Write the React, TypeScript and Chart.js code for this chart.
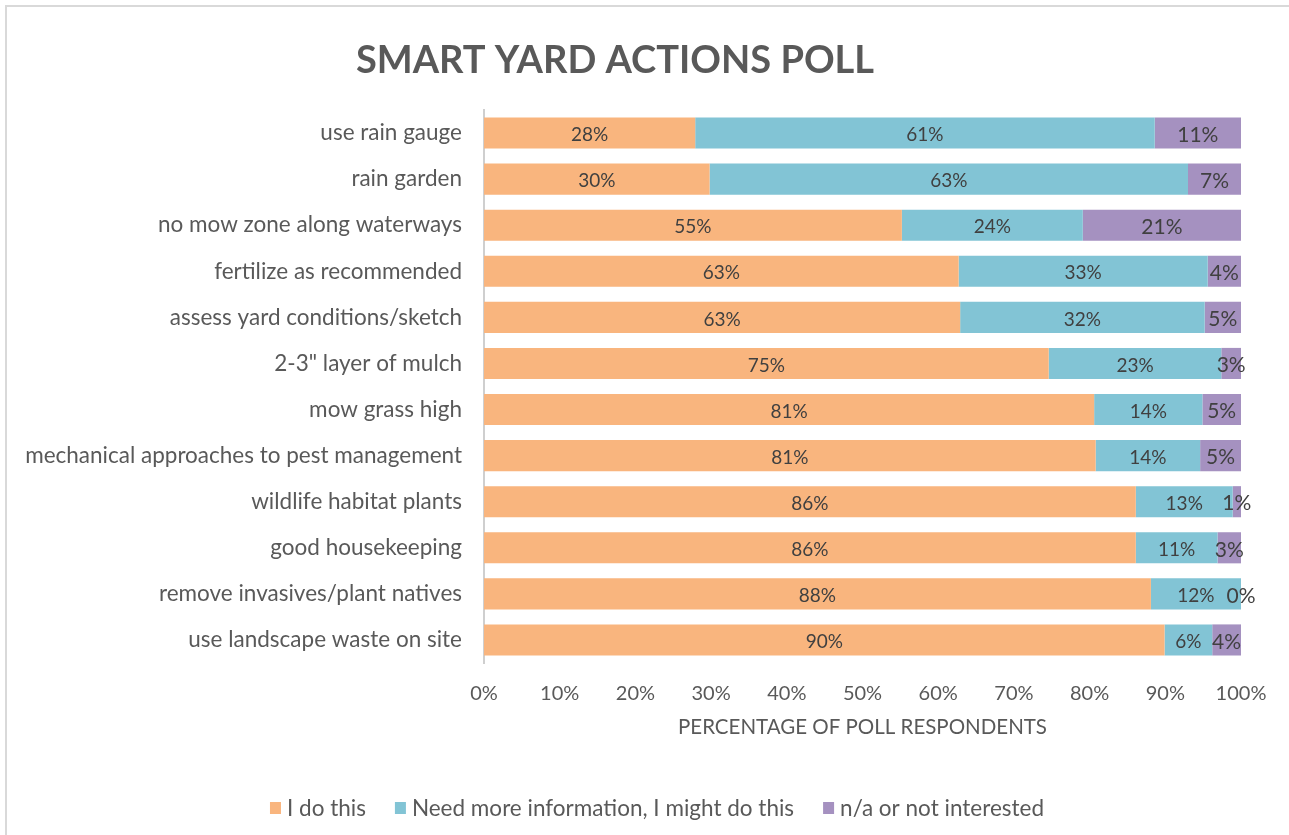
import React, { useEffect, useRef } from "react";
import { Chart, registerables } from "chart.js";

Chart.register(...registerables);

const categories = [
  "use rain gauge",
  "rain garden",
  "no mow zone along waterways",
  "fertilize as recommended",
  "assess yard conditions/sketch",
  '2-3" layer of mulch',
  "mow grass high",
  "mechanical approaches to pest management",
  "wildlife habitat plants",
  "good housekeeping",
  "remove invasives/plant natives",
  "use landscape waste on site",
];

const doThis = [27.9, 29.8, 55.2, 62.7, 62.9, 74.6, 80.6, 80.8, 86.1, 86.1, 88.1, 89.9];
const needInfo = [60.7, 63.2, 23.9, 32.9, 32.3, 22.8, 14.3, 13.8, 12.8, 10.8, 11.9, 6.3];
const notInterested = [11.4, 7.0, 20.9, 4.4, 4.8, 2.6, 5.1, 5.4, 1.1, 3.1, 0, 3.8];

const seriesNames = ["I do this", "Need more information, I might do this", "n/a or not interested"];
const seriesColors = ["#F9B57E", "#82C4D5", "#A591C0"];

const xMin = 0;
const xMax = 100;
const xStep = 10;

const chartTitle = "SMART YARD ACTIONS POLL";
const xAxisTitle = "PERCENTAGE OF POLL RESPONDENTS";

const FONT = "Lato";

export default function App() {
  const ref = useRef<HTMLCanvasElement | null>(null);

  useEffect(() => {
    if (!ref.current) return;

    const segLabels = {
      id: "segLabels",
      afterDatasetsDraw(chart: any) {
        const ctx = chart.ctx;
        ctx.save();
        ctx.textAlign = "center";
        ctx.textBaseline = "middle";
        ctx.fillStyle = "#404040";
        chart.data.datasets.forEach((ds: any, i: number) => {
          const meta = chart.getDatasetMeta(i);
          ctx.font = i === 2 ? `21px ${FONT}` : `19px ${FONT}`;
          meta.data.forEach((bar: any, j: number) => {
            const v = ds.data[j] as number;
            const cx = (bar.x + bar.base) / 2;
            ctx.fillText(Math.round(v) + "%", cx, bar.y + 2);
          });
        });
        ctx.restore();
      },
    };

    const decor = {
      id: "decor",
      afterDraw(chart: any) {
        const ctx = chart.ctx;
        ctx.save();
        // title
        ctx.fillStyle = "#595959";
        ctx.font = `bold 38px ${FONT}`;
        ctx.textAlign = "center";
        ctx.textBaseline = "middle";
        ctx.fillText(chartTitle, 615, 61);

        // legend
        ctx.font = `22.5px ${FONT}`;
        const box = 11;
        const gapBox = 6;
        const gapItem = 29;
        const widths = seriesNames.map((n) => box + gapBox + ctx.measureText(n).width);
        const total = widths.reduce((a, b) => a + b, 0) + gapItem * (widths.length - 1);
        let x = 657 - total / 2;
        const cy = 808;
        ctx.textAlign = "left";
        seriesNames.forEach((n, i) => {
          ctx.fillStyle = seriesColors[i];
          ctx.fillRect(x, cy - 6, box, 12);
          ctx.fillStyle = "#595959";
          ctx.fillText(n, x + box + gapBox, cy + 1);
          x += widths[i] + gapItem;
        });
        ctx.restore();
      },
    };

    const chart = new Chart(ref.current, {
      type: "bar",
      data: {
        labels: categories,
        datasets: [
          { label: seriesNames[0], data: doThis, backgroundColor: seriesColors[0] },
          { label: seriesNames[1], data: needInfo, backgroundColor: seriesColors[1] },
          { label: seriesNames[2], data: notInterested, backgroundColor: seriesColors[2] },
        ],
      },
      options: {
        indexAxis: "y",
        responsive: false,
        animation: false,
        devicePixelRatio: 1,
        layout: { padding: { left: 0, right: 48, top: 110, bottom: 95 } },
        datasets: {
          bar: { barPercentage: 0.675, categoryPercentage: 1 },
        },
        plugins: {
          legend: { display: false },
          title: { display: false },
          tooltip: { enabled: false },
        },
        scales: {
          x: {
            stacked: true,
            min: xMin,
            max: xMax,
            grid: { display: false },
            border: { display: false },
            ticks: {
              stepSize: xStep,
              padding: 11,
              color: "#595959",
              font: { family: FONT, size: 20 },
              callback: (v: any) => v + "%",
            },
            title: {
              display: true,
              text: xAxisTitle,
              color: "#595959",
              font: { family: FONT, size: 20.5 },
              padding: { top: 0, bottom: 0 },
            },
            afterFit: (scale: any) => {
              scale.height = 77;
            },
          },
          y: {
            stacked: true,
            grid: { display: false },
            border: { display: true, color: "#cfcfcf", width: 2 },
            ticks: {
              padding: 14,
              color: "#595959",
              font: { family: FONT, size: 22.5 },
            },
            afterFit: (scale: any) => {
              scale.width = 484;
            },
          },
        },
      },
      plugins: [segLabels, decor],
    });

    if ((document as any).fonts && (document as any).fonts.load) {
      Promise.all([
        (document as any).fonts.load(`20px ${FONT}`),
        (document as any).fonts.load(`bold 38px ${FONT}`),
      ])
        .then(() => chart.update())
        .catch(() => {});
    }

    return () => chart.destroy();
  }, []);

  return (
    <div
      style={{
        position: "fixed",
        left: 0,
        top: 0,
        width: 1289,
        height: 835,
        background: "#ffffff",
        overflow: "hidden",
      }}
    >
      <canvas ref={ref} width={1289} height={835} style={{ display: "block" }} />
      <div
        style={{
          position: "absolute",
          left: 5,
          top: 5,
          right: -10,
          bottom: -10,
          borderLeft: "2px solid #d9d9d9",
          borderTop: "2px solid #d9d9d9",
          pointerEvents: "none",
        }}
      />
    </div>
  );
}
